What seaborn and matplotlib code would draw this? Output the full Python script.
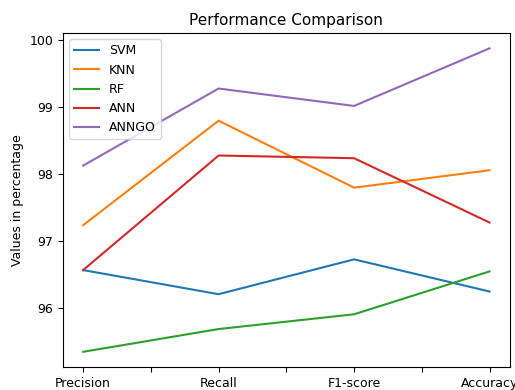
import matplotlib
matplotlib.use("Agg")
import matplotlib.pyplot as plt
import seaborn as sns
import pandas as pd

metrics = ["Precision", "Recall", "F1-score", "Accuracy"]
models = ["SVM", "KNN", "RF", "ANN", "ANNGO"]
svm = [96.57, 96.21, 96.73, 96.25]
knn = [97.24, 98.80, 97.80, 98.06]
rf = [95.35, 95.69, 95.91, 96.55]
ann = [96.57, 98.28, 98.24, 97.28]
anngo = [98.13, 99.28, 99.02, 99.88]
series = [svm, knn, rf, ann, anngo]

rows = []
for m, vals in zip(models, series):
    for i, v in enumerate(vals):
        rows.append({"x": i, "value": v, "model": m})
df = pd.DataFrame(rows)

fig = plt.figure(figsize=(5.15, 3.9), dpi=100)
ax = fig.add_axes([0.122, 0.059, 0.868, 0.856])
sns.lineplot(data=df, x="x", y="value", hue="model", hue_order=models,
             palette=sns.color_palette("tab10", 5), ax=ax, linewidth=1.5)

ticks = [i * 0.5 for i in range(7)]
labels = [metrics[int(t)] if t == int(t) else "" for t in ticks]
ax.set_xticks(ticks)
ax.set_xticklabels(labels, fontsize=9)
ax.set_yticks([96, 97, 98, 99, 100])
ax.tick_params(axis="y", labelsize=9)
ax.set_xlabel("")
ax.set_ylabel("Values in percentage", fontsize=9)
ax.set_title("Performance Comparison", fontsize=11)
ax.legend(loc="upper left", fontsize=9, title=None)
fig.savefig("out.png", dpi=100)
